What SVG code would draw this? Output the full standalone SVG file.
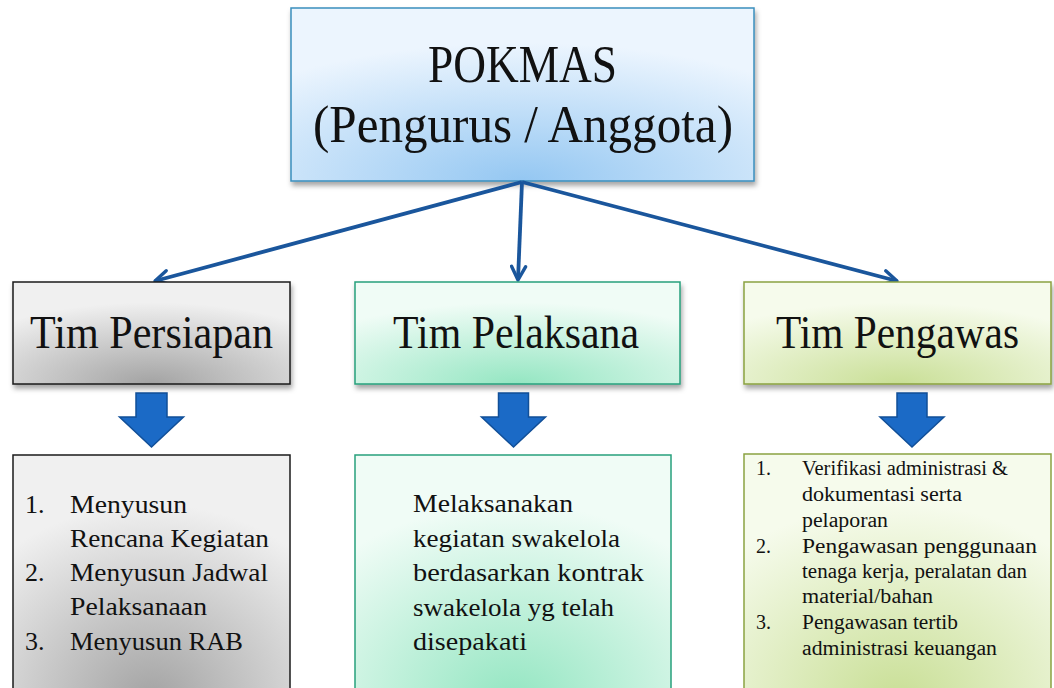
<svg xmlns="http://www.w3.org/2000/svg" width="1054" height="688" viewBox="0 0 1054 688">
<defs>
<style>
text{font-family:"Liberation Serif","Times New Roman",serif;fill:#111;}
.t1{font-size:52px;}
.t2{font-size:46px;}
.tb{font-size:26px;}
.tm{font-size:26px;}
.ts{font-size:20px;}
.conn{stroke:#1a569c;stroke-width:3.8;fill:none;marker-end:url(#arr);}
.blk{fill:#1b6ac6;stroke:#114f98;stroke-width:1.5;stroke-linejoin:miter;}
</style>
<radialGradient id="gBlue" cx="0.5" cy="1" r="0.8">
<stop offset="0" stop-color="#94c7f2"/><stop offset="1" stop-color="#ecf5fe"/>
</radialGradient>
<radialGradient id="gGray" cx="0.5" cy="1" r="0.8">
<stop offset="0" stop-color="#a3a3a3"/><stop offset="1" stop-color="#f0f0f0"/>
</radialGradient>
<radialGradient id="gGreen" cx="0.5" cy="1" r="0.8">
<stop offset="0" stop-color="#94e6c2"/><stop offset="1" stop-color="#f0fcf6"/>
</radialGradient>
<radialGradient id="gOlive" cx="0.5" cy="1" r="0.8">
<stop offset="0" stop-color="#c9df96"/><stop offset="1" stop-color="#f6fbec"/>
</radialGradient>
<filter id="sh" x="-10%" y="-10%" width="120%" height="130%">
<feDropShadow dx="1.5" dy="4" stdDeviation="2.5" flood-color="#000" flood-opacity="0.35"/>
</filter>
<marker id="arr" viewBox="0 0 18 18" refX="16" refY="9" markerWidth="18" markerHeight="18" markerUnits="userSpaceOnUse" orient="auto">
<path d="M2.5,2 L16,9 L2.5,16" fill="none" stroke="#1a569c" stroke-width="3.4" stroke-linecap="round" stroke-linejoin="round"/>
</marker>
</defs>
<rect width="1054" height="688" fill="#fff"/>

<g id="pokmas">
<rect x="291" y="8" width="463" height="173" fill="url(#gBlue)" stroke="#3a8ebd" stroke-width="1.5" filter="url(#sh)"/>
<text class="t1" x="428" y="82" textLength="189" lengthAdjust="spacingAndGlyphs">POKMAS</text>
<text class="t1" x="313" y="142" textLength="420" lengthAdjust="spacingAndGlyphs">(Pengurus / Anggota)</text>
</g>

<g id="connectors">
<line class="conn" x1="522" y1="182" x2="155" y2="281"/>
<line class="conn" x1="522" y1="182" x2="518" y2="280"/>
<line class="conn" x1="522" y1="182" x2="897" y2="281"/>
<path class="blk" d="M136,393 H167 V417 H183.5 L151.5,447 L119.5,417 H136 Z"/>
<path class="blk" d="M498.5,393 H528.5 V417 H545.5 L513.5,447 L481.5,417 H498.5 Z"/>
<path class="blk" d="M897,393 H927 V417 H944 L912,447 L880,417 H897 Z"/>
</g>

<g id="tim-persiapan">
<rect x="13" y="282" width="277" height="102" fill="url(#gGray)" stroke="#1a1a1a" stroke-width="1.5" filter="url(#sh)"/>
<text class="t2" x="30" y="348" textLength="243" lengthAdjust="spacingAndGlyphs">Tim Persiapan</text>
</g>

<g id="tim-pelaksana">
<rect x="355" y="282" width="325" height="102" fill="url(#gGreen)" stroke="#27a07c" stroke-width="1.5" filter="url(#sh)"/>
<text class="t2" x="393" y="348" textLength="246" lengthAdjust="spacingAndGlyphs">Tim Pelaksana</text>
</g>

<g id="tim-pengawas">
<rect x="744" y="282" width="307" height="102" fill="url(#gOlive)" stroke="#8aa241" stroke-width="1.5" filter="url(#sh)"/>
<text class="t2" x="776" y="348" textLength="243" lengthAdjust="spacingAndGlyphs">Tim Pengawas</text>
</g>

<g id="tugas-persiapan">
<rect x="13" y="455" width="277" height="245" fill="url(#gGray)" stroke="#1a1a1a" stroke-width="1.5"/>
<text class="tb" x="25" y="513">1.</text>
<text class="tb" x="70" y="513" textLength="117" lengthAdjust="spacingAndGlyphs">Menyusun</text>
<text class="tb" x="70" y="547" textLength="199" lengthAdjust="spacingAndGlyphs">Rencana Kegiatan</text>
<text class="tb" x="25" y="581">2.</text>
<text class="tb" x="70" y="581" textLength="198" lengthAdjust="spacingAndGlyphs">Menyusun Jadwal</text>
<text class="tb" x="70" y="615" textLength="137" lengthAdjust="spacingAndGlyphs">Pelaksanaan</text>
<text class="tb" x="25" y="650">3.</text>
<text class="tb" x="70" y="650" textLength="173" lengthAdjust="spacingAndGlyphs">Menyusun RAB</text>
</g>

<g id="tugas-pelaksana">
<rect x="355" y="455" width="316" height="245" fill="url(#gGreen)" stroke="#27a07c" stroke-width="1.5"/>
<text class="tm" x="413" y="512" textLength="160" lengthAdjust="spacingAndGlyphs">Melaksanakan</text>
<text class="tm" x="413" y="547" textLength="207" lengthAdjust="spacingAndGlyphs">kegiatan swakelola</text>
<text class="tm" x="413" y="581" textLength="231" lengthAdjust="spacingAndGlyphs">berdasarkan kontrak</text>
<text class="tm" x="413" y="616" textLength="201" lengthAdjust="spacingAndGlyphs">swakelola yg telah</text>
<text class="tm" x="413" y="650" textLength="114" lengthAdjust="spacingAndGlyphs">disepakati</text>
</g>

<g id="tugas-pengawas">
<rect x="744" y="454" width="307" height="246" fill="url(#gOlive)" stroke="#8aa241" stroke-width="1.5"/>
<text class="ts" x="756" y="475">1.</text>
<text class="ts" x="802" y="475" textLength="206" lengthAdjust="spacingAndGlyphs">Verifikasi administrasi &amp;</text>
<text class="ts" x="802" y="501" textLength="160" lengthAdjust="spacingAndGlyphs">dokumentasi serta</text>
<text class="ts" x="802" y="527" textLength="86" lengthAdjust="spacingAndGlyphs">pelaporan</text>
<text class="ts" x="756" y="553">2.</text>
<text class="ts" x="802" y="553" textLength="235" lengthAdjust="spacingAndGlyphs">Pengawasan penggunaan</text>
<text class="ts" x="802" y="578" textLength="225" lengthAdjust="spacingAndGlyphs">tenaga kerja, peralatan dan</text>
<text class="ts" x="802" y="603" textLength="131" lengthAdjust="spacingAndGlyphs">material/bahan</text>
<text class="ts" x="756" y="629">3.</text>
<text class="ts" x="802" y="629" textLength="156" lengthAdjust="spacingAndGlyphs">Pengawasan tertib</text>
<text class="ts" x="802" y="655" textLength="195" lengthAdjust="spacingAndGlyphs">administrasi keuangan</text>
</g>
</svg>
